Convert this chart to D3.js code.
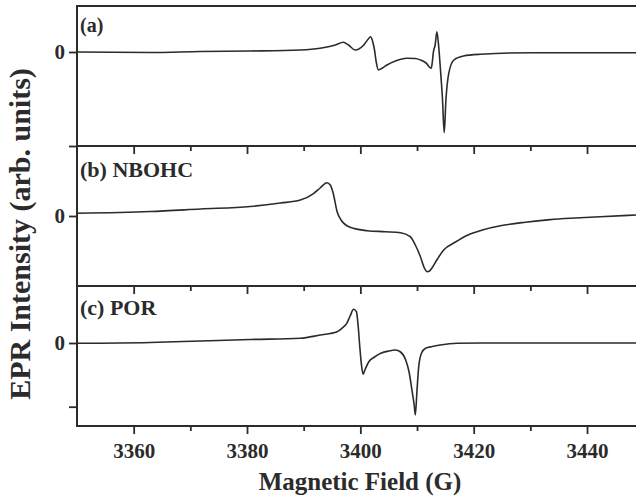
<!DOCTYPE html>
<html><head><meta charset="utf-8">
<script src="https://cdn.jsdelivr.net/npm/d3@7"></script>
<style>body{margin:0;background:#fff}svg{display:block}</style>
</head><body>
<svg id="c" width="636" height="496"></svg>
<script>
// Magnetic field (G) and intensities (arb. units)
const fieldA = [3350,3362.9,3371.8,3380.6,3389.4,3392.9,3395.6,3397.0,3397.9,3399.1,3400.6,3401.4,3401.8,3402.1,3402.5,3402.8,3403.2,3403.9,3404.7,3406.2,3408.2,3409.7,3410.6,3411.6,3412.5,3412.7,3412.9,3413.2,3413.5,3413.8,3414.1,3414.5,3414.8,3415.1,3415.6,3416.5,3418.2,3421.2,3430.5,3448.7];
const intensityA = [0,-0.05,0.05,0.1,0.2,0.37,0.7,0.97,0.7,0.2,0.7,1.3,1.53,1.2,0.2,-1.0,-1.8,-1.6,-1.3,-0.9,-0.63,-0.65,-0.8,-1.1,-1.63,-1.0,0.03,0.7,2.03,0.7,-1.47,-4.8,-8.07,-4.8,-2.13,-0.8,-0.4,-0.23,-0.07,-0.07];

const fieldB = [3350,3362.9,3371.8,3380.6,3385.9,3389.4,3391.8,3392.9,3394.1,3394.7,3395.2,3395.9,3396.6,3398.2,3401.2,3404.4,3407.1,3408.8,3409.7,3410.6,3411.3,3411.8,3412.2,3412.6,3413.6,3414.7,3416.8,3418.8,3421.7,3424.7,3429.1,3433.5,3437.9,3442.3,3448.7];
const intensityB = [0.27,0.45,0.7,0.95,1.3,1.6,2.27,2.8,3.33,3.1,2.3,0.43,-0.4,-1.13,-1.47,-1.57,-1.67,-2.07,-2.9,-4.07,-5.2,-5.57,-5.5,-5.23,-4.3,-3.4,-2.6,-1.95,-1.38,-0.98,-0.62,-0.36,-0.2,-0.07,0.1];

const fieldC = [3350,3362.9,3371.8,3380.6,3389.4,3392.9,3395.9,3396.8,3397.6,3398.2,3398.8,3399.3,3399.6,3399.9,3400.2,3400.5,3400.8,3401.5,3402.5,3403.6,3405.0,3406.2,3407.1,3408.0,3408.6,3409.1,3409.5,3409.7,3410.0,3410.3,3410.8,3411.5,3412.7,3414.1,3417.1,3424.7,3448.7];
const intensityC = [-0.03,0.05,0.2,0.35,0.47,0.8,1.13,1.5,1.97,2.7,3.37,3.13,1.8,-0.37,-2.2,-3.13,-2.7,-1.87,-1.4,-1.03,-0.8,-0.7,-0.9,-1.7,-2.9,-4.7,-6.2,-7.2,-4.7,-2.37,-1.0,-0.53,-0.35,-0.2,-0.03,0,0];

const panelLabels = ["(a)", "(b) NBOHC", "(c) POR"];
const xTicks = [3360, 3380, 3400, 3420, 3440];
const xMinorTicks = [3350, 3370, 3390, 3410, 3430];
const yDomains = [[-9.4, 4.6], [-7.0, 7.0], [-8.3, 5.7]];
const yTickValues = [[0, -9.4], [0], [0, -6.37]];
const xTitle = "Magnetic Field (G)";
const yTitle = "EPR Intensity (arb. units)";

const svg = d3.select("#c");
const left = 77, right = 636, top0 = 6, panelH = 140;
const font = "'Liberation Serif', 'Times New Roman', serif";
const ink = "#2b2b2b";

const x = d3.scaleLinear().domain([3350, 3350 + (right - left) / 5.667]).range([left, right]);

const series = [
  {f: fieldA, v: intensityA},
  {f: fieldB, v: intensityB},
  {f: fieldC, v: intensityC}
];

series.forEach((s, i) => {
  const t = top0 + i * panelH, b = t + panelH;
  const y = d3.scaleLinear().domain(yDomains[i]).range([b, t]);
  const g = svg.append("g");
  g.append("rect").attr("x", left).attr("y", t).attr("width", right - left + 2).attr("height", panelH)
    .attr("fill", "none").attr("stroke", ink).attr("stroke-width", 2);
  const data = s.f.map((f, k) => [f, s.v[k]]);
  g.append("path").datum(data)
    .attr("d", d3.line().x(d => x(d[0])).y(d => y(d[1])).curve(d3.curveMonotoneX))
    .attr("fill", "none").attr("stroke", ink).attr("stroke-width", 1.6).attr("stroke-linejoin", "round");
  const last = i === 2;
  const ax = g.append("g").attr("transform", `translate(0,${b})`)
    .call(d3.axisBottom(x).tickValues(xTicks).tickSize(8).tickFormat(last ? d3.format("d") : () => ""));
  ax.select(".domain").remove();
  ax.selectAll("line").attr("stroke", ink).attr("stroke-width", 1.8);
  ax.selectAll("text").attr("font-family", font).attr("font-weight", "bold").attr("font-size", 21)
    .attr("fill", ink).attr("dy", "0.95em").attr("y", 12);
  const axm = g.append("g").attr("transform", `translate(0,${b})`)
    .call(d3.axisBottom(x).tickValues(xMinorTicks.filter(v => v > 3350)).tickSize(5).tickFormat(() => ""));
  axm.select(".domain").remove();
  axm.selectAll("line").attr("stroke", ink).attr("stroke-width", 1.8);
  const ay = g.append("g").attr("transform", `translate(${left},0)`)
    .call(d3.axisLeft(y).tickValues(yTickValues[i]).tickSize(8).tickFormat(d => d === 0 ? "0" : ""));
  ay.select(".domain").remove();
  ay.selectAll("line").attr("stroke", ink).attr("stroke-width", 1.8);
  ay.selectAll("text").attr("font-family", font).attr("font-weight", "bold").attr("font-size", 21)
    .attr("fill", ink).attr("x", -12);
  g.append("text").attr("x", 80).attr("y", [32, 177, 315][i]).text(panelLabels[i])
    .attr("font-family", font).attr("font-weight", "bold").attr("font-size", i === 0 ? 20 : 22).attr("fill", ink);
});

svg.append("text").attr("x", 360).attr("y", 490).attr("text-anchor", "middle").text(xTitle)
  .attr("font-family", font).attr("font-weight", "bold").attr("font-size", 25).attr("fill", ink);
svg.append("text").attr("transform", "translate(30,234) rotate(-90)").attr("text-anchor", "middle").text(yTitle)
  .attr("font-family", font).attr("font-weight", "bold").attr("font-size", 30).attr("fill", ink);
</script>
</body></html>
